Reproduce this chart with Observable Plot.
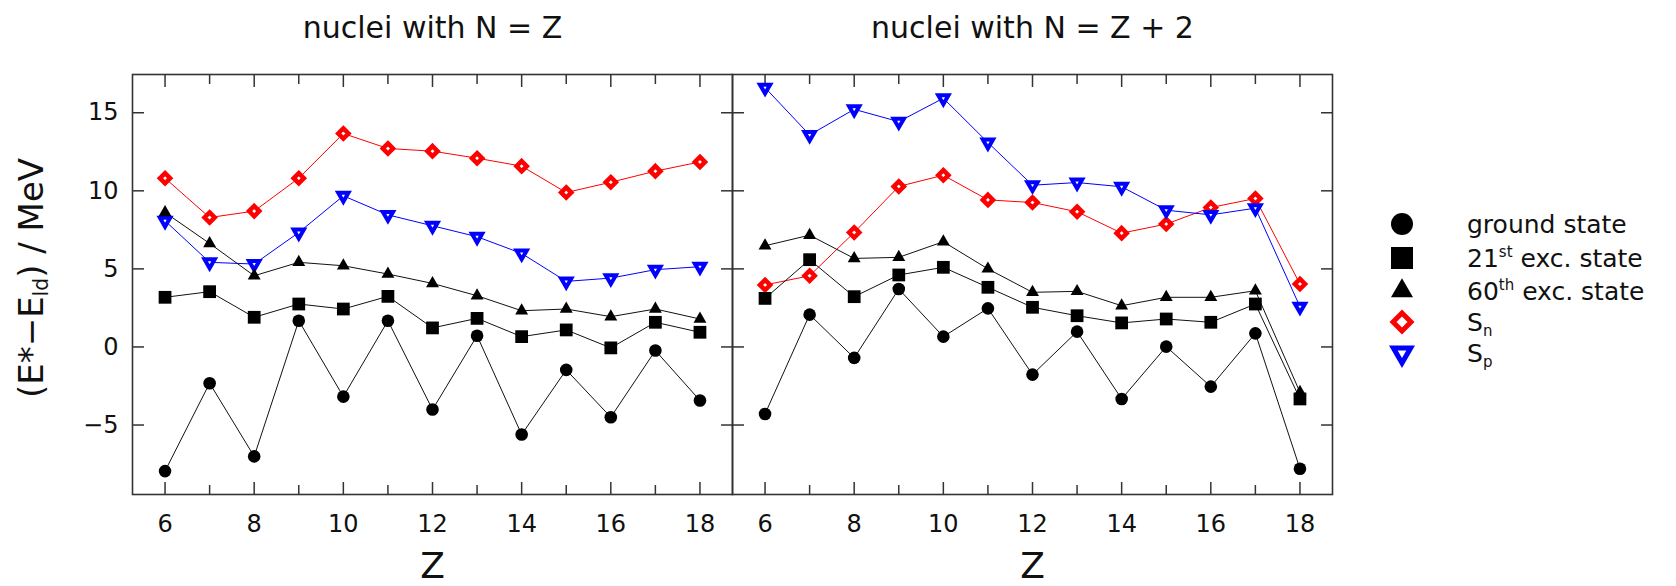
<!DOCTYPE html>
<html>
<head>
<meta charset="utf-8">
<script src="https://cdn.jsdelivr.net/npm/d3@7"></script>
<script src="https://cdn.jsdelivr.net/npm/@observablehq/plot@0.6"></script>
<style>
  body { margin: 0; background: #fff; font-family: "DejaVu Sans", sans-serif; color: #111; }
  #chart { position: relative; width: 1676px; height: 586px; overflow: hidden; background: #fff; }
  #chart svg.plot-panel { position: absolute; top: 0; }
  #ylabel {
    position: absolute; left: 33px; top: 278px; white-space: nowrap;
    font-size: 34px; line-height: 1; transform: translate(-50%, -50%) rotate(-90deg);
  }
  #ylabel sub { font-size: 0.6em; vertical-align: -0.25em; }
  .legend-row { position: absolute; left: 1384px; height: 34px; display: flex; align-items: center; font-size: 25px; white-space: nowrap; }
  .legend-row svg { width: 36px; height: 34px; margin-right: 47px; overflow: visible; }
  .legend-row sup { font-size: 0.6em; vertical-align: 0.7em; line-height: 0; }
  .legend-row sub { font-size: 0.6em; vertical-align: -0.35em; line-height: 0; }
</style>
</head>
<body>
<div id="chart"></div>
<script>
// Proton number Z of the nuclei
const Z = [6, 7, 8, 9, 10, 11, 12, 13, 14, 15, 16, 17, 18];

// Nuclei with N = Z : (E* - E_ld) in MeV
const groundNZ = [-7.95, -2.32, -7.01, 1.68, -3.18, 1.68, -4.01, 0.72, -5.61, -1.47, -4.50, -0.23, -3.43];
const exc21NZ  = [3.18, 3.54, 1.90, 2.75, 2.43, 3.24, 1.22, 1.83, 0.66, 1.09, -0.06, 1.58, 0.94];
const exc60NZ  = [8.61, 6.63, 4.56, 5.42, 5.20, 4.67, 4.07, 3.28, 2.32, 2.43, 1.94, 2.43, 1.79];
const snNZ     = [10.81, 8.29, 8.70, 10.81, 13.67, 12.71, 12.54, 12.09, 11.58, 9.89, 10.55, 11.26, 11.85];
const spNZ     = [8.08, 5.42, 5.31, 7.33, 9.68, 8.46, 7.76, 7.06, 5.99, 4.20, 4.41, 4.95, 5.14];

// Nuclei with N = Z + 2
const groundNZ2 = [-4.29, 2.07, -0.70, 3.71, 0.66, 2.47, -1.77, 0.98, -3.33, 0.02, -2.54, 0.87, -7.80];
const exc21NZ2  = [3.11, 5.59, 3.22, 4.61, 5.10, 3.82, 2.54, 2.00, 1.54, 1.79, 1.58, 2.75, -3.33];
const exc60NZ2  = [6.48, 7.16, 5.67, 5.74, 6.74, 5.00, 3.50, 3.56, 2.64, 3.18, 3.18, 3.60, -2.90];
const snNZ2     = [3.97, 4.56, 7.33, 10.28, 11.00, 9.42, 9.25, 8.66, 7.29, 7.87, 8.93, 9.51, 4.03];
const spNZ2     = [16.61, 13.58, 15.22, 14.43, 15.93, 13.09, 10.36, 10.53, 10.26, 8.76, 8.46, 8.89, 2.58];

// Axis ticks
const zMajor = [6, 8, 10, 12, 14, 16, 18];
const zMinor = [7, 9, 11, 13, 15, 17];
const energyTicks = [-5, 0, 5, 10, 15];

// Panel titles
const titleNZ = "nuclei with N = Z";
const titleNZ2 = "nuclei with N = Z + 2";
const xLabel = "Z";

// Marker and line styles for each series
const seriesOrder = ["sn", "sp", "exc60", "exc21", "ground"];
const styles = {
  ground: {symbol: "circle",   r: 6.3, fill: "#000", stroke: "none", strokeWidth: 0, rotate: 0,   line: "#111"},
  exc21:  {symbol: "square",   r: 7.2, fill: "#000", stroke: "none", strokeWidth: 0, rotate: 0,   line: "#111"},
  exc60:  {symbol: "triangle", r: 4.8, fill: "#000", stroke: "none", strokeWidth: 0, rotate: 0,   line: "#111"},
  sn:     {symbol: "diamond2", r: 4.6, fill: "#fff", stroke: "#ff0000", strokeWidth: 4.5, rotate: 0, line: "#ff0000"},
  sp:     {symbol: "triangle", r: 3.8, fill: "#fff", stroke: "#0000ff", strokeWidth: 4,   rotate: 180, line: "#0000ff"}
};

function table(series) {
  const rows = [];
  for (const [name, values] of Object.entries(series)) {
    values.forEach((E, i) => rows.push({series: name, Z: Z[i], E}));
  }
  return rows;
}

const rowsNZ = table({ground: groundNZ, exc21: exc21NZ, exc60: exc60NZ, sn: snNZ, sp: spNZ});
const rowsNZ2 = table({ground: groundNZ2, exc21: exc21NZ2, exc60: exc60NZ2, sn: snNZ2, sp: spNZ2});

const frameColor = "#333";

function panel({rows, title, labelled, width, marginLeft, left}) {
  const seriesMarks = [];
  for (const name of seriesOrder) {
    const s = styles[name];
    const data = rows.filter(d => d.series === name);
    seriesMarks.push(Plot.line(data, {x: "Z", y: "E", stroke: s.line, strokeWidth: 1}));
  }
  for (const name of seriesOrder) {
    const s = styles[name];
    const data = rows.filter(d => d.series === name);
    seriesMarks.push(Plot.dot(data, {
      x: "Z", y: "E", symbol: s.symbol, r: s.r, fill: s.fill,
      stroke: s.stroke, strokeWidth: s.strokeWidth, rotate: s.rotate
    }));
  }
  const blank = () => "";
  const svg = Plot.plot({
    width, height: 586,
    marginLeft, marginRight: 4, marginTop: 74, marginBottom: 92,
    style: {background: "none", overflow: "visible", fontFamily: "'DejaVu Sans', sans-serif", color: "#111"},
    x: {domain: [5.27, 18.73]},
    y: {domain: [-9.45, 17.45]},
    marks: [
      // ticks pointing inward on all four sides
      Plot.axisX(zMajor, {anchor: "bottom", tickSize: -12, tickPadding: 32, fontSize: 24, label: null, stroke: frameColor, strokeWidth: 1.5}),
      Plot.axisX(zMinor, {anchor: "bottom", tickSize: -9, tickFormat: blank, label: null, stroke: frameColor, strokeWidth: 1.5}),
      Plot.axisX(zMajor, {anchor: "top", tickSize: -12, tickFormat: blank, label: null, stroke: frameColor, strokeWidth: 1.5}),
      Plot.axisX(zMinor, {anchor: "top", tickSize: -9, tickFormat: blank, label: null, stroke: frameColor, strokeWidth: 1.5}),
      Plot.axisY(energyTicks, {anchor: "left", tickSize: -12, tickPadding: 26, fontSize: 24,
        tickFormat: labelled ? undefined : blank, label: null, stroke: frameColor, strokeWidth: 1.5}),
      Plot.axisY(energyTicks, {anchor: "right", tickSize: -12, tickFormat: blank, label: null, stroke: frameColor, strokeWidth: 1.5}),
      ...seriesMarks,
      Plot.frame({stroke: frameColor, strokeWidth: 1.6}),
      Plot.text([title], {text: d => d, frameAnchor: "top", dy: -46, lineAnchor: "middle", fontSize: 30}),
      Plot.text([xLabel], {text: d => d, frameAnchor: "bottom", dy: 72, lineAnchor: "middle", fontSize: 36})
    ]
  });
  svg.classList.add("plot-panel");
  svg.style.left = left + "px";
  return svg;
}

const chart = document.getElementById("chart");
chart.append(panel({rows: rowsNZ, title: titleNZ, labelled: true, width: 736, marginLeft: 132, left: 0}));
chart.append(panel({rows: rowsNZ2, title: titleNZ2, labelled: false, width: 608, marginLeft: 4, left: 728}));

// Y axis title
const ylab = document.createElement("div");
ylab.id = "ylabel";
ylab.innerHTML = "(E*−E<sub>ld</sub>) / MeV";
chart.append(ylab);

// Legend
const legendEntries = [
  {key: "ground", html: "ground state", symbol: d3.symbolCircle, size: 380},
  {key: "exc21", html: "21<sup>st</sup> exc. state", symbol: d3.symbolSquare, size: 484},
  {key: "exc60", html: "60<sup>th</sup> exc. state", symbol: d3.symbolTriangle, size: 210},
  {key: "sn", html: "S<sub>n</sub>", symbol: d3.symbolDiamond2, size: 205},
  {key: "sp", html: "S<sub>p</sub>", symbol: d3.symbolTriangle, size: 130}
];
const legendY = [224, 258, 291, 322, 353];
legendEntries.forEach((e, i) => {
  const s = styles[e.key];
  const row = document.createElement("div");
  row.className = "legend-row";
  row.style.top = (legendY[i] - 17) + "px";
  const sw = d3.create("svg").attr("viewBox", "-18 -17 36 34");
  sw.append("path")
    .attr("d", d3.symbol(e.symbol, e.size)())
    .attr("transform", s.rotate ? `rotate(${s.rotate})` : null)
    .attr("fill", s.fill)
    .attr("stroke", s.stroke)
    .attr("stroke-width", s.strokeWidth ? 5 : 0);
  row.append(sw.node());
  const label = document.createElement("span");
  label.innerHTML = e.html;
  row.append(label);
  chart.append(row);
});
</script>
</body>
</html>
